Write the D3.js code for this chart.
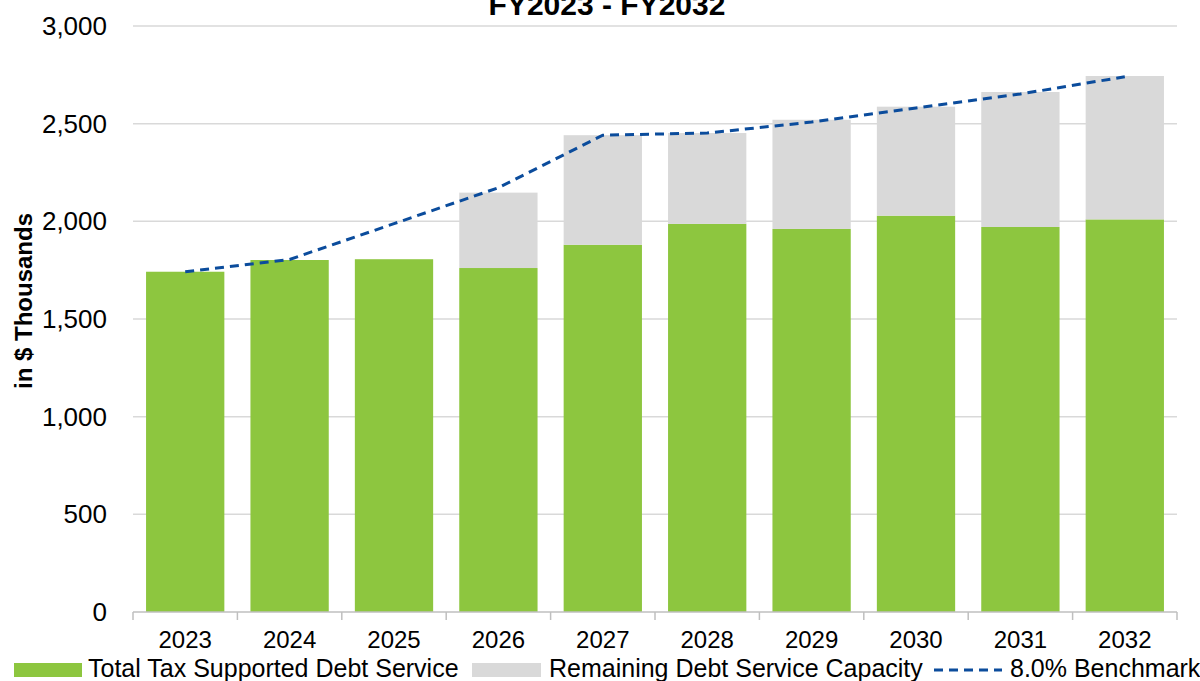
<!DOCTYPE html>
<html>
<head>
<meta charset="utf-8">
<script src="https://cdn.jsdelivr.net/npm/d3@7"></script>
<style>
  body { margin: 0; background: #fff; }
  svg { display: block; font-family: "Liberation Sans", Arial, sans-serif; }
</style>
</head>
<body>
<div id="chart"></div>
<script>
// chart data
const years = ["2023", "2024", "2025", "2026", "2027", "2028", "2029", "2030", "2031", "2032"];
const debtService = [1742, 1802, 1806, 1761, 1880, 1987, 1961, 2029, 1971, 2010];
const remainingCapacity = [0, 0, 0, 386, 561, 465, 559, 558, 691, 734];
const benchmark = [1742, 1805, 1988, 2172, 2441, 2452, 2508, 2580, 2652, 2740];
const yTicks = [0, 500, 1000, 1500, 2000, 2500, 3000];
const legendLabels = ["Total Tax Supported Debt Service", "Remaining Debt Service Capacity", "8.0% Benchmark"];

const width = 1200, height = 681;
const margin = { top: 26, right: 23, bottom: 69, left: 133 };

const svg = d3.select("#chart").append("svg")
  .attr("width", width)
  .attr("height", height);

const x = d3.scaleBand()
  .domain(years)
  .range([margin.left, width - margin.right])
  .paddingInner(0.25)
  .paddingOuter(0.125);

const y = d3.scaleLinear()
  .domain([0, 3000])
  .range([height - margin.bottom, margin.top]);

// gridlines
svg.append("g")
  .selectAll("line")
  .data(yTicks.filter(d => d > 0))
  .enter().append("line")
  .attr("x1", margin.left)
  .attr("x2", width - margin.right)
  .attr("y1", d => y(d))
  .attr("y2", d => y(d))
  .attr("stroke", "#d9d9d9")
  .attr("stroke-width", 1.5);

// y tick labels
svg.append("g")
  .selectAll("text")
  .data(yTicks)
  .enter().append("text")
  .attr("x", 107)
  .attr("y", d => y(d) + 9)
  .attr("text-anchor", "end")
  .style("font-size", "26px")
  .style("fill", "#000")
  .text(d => d3.format(",")(d));

// stacked bars
const stack = years.map((yr, i) => ({ year: yr, debt: debtService[i], rem: remainingCapacity[i] }));

svg.append("g")
  .selectAll("rect")
  .data(stack)
  .enter().append("rect")
  .attr("x", d => x(d.year))
  .attr("width", x.bandwidth())
  .attr("y", d => y(d.debt))
  .attr("height", d => y(0) - y(d.debt))
  .attr("fill", "#8dc63f");

svg.append("g")
  .selectAll("rect")
  .data(stack.filter(d => d.rem > 0))
  .enter().append("rect")
  .attr("x", d => x(d.year))
  .attr("width", x.bandwidth())
  .attr("y", d => y(d.debt + d.rem))
  .attr("height", d => y(d.debt) - y(d.debt + d.rem))
  .attr("fill", "#d9d9d9");

// x axis
const xAxis = svg.append("g")
  .attr("transform", `translate(0, ${y(0)})`);

xAxis.append("line")
  .attr("x1", margin.left)
  .attr("x2", width - margin.right)
  .attr("stroke", "#bfbfbf")
  .attr("stroke-width", 1.5);

const bounds = years.map(d => x(d) - x.step() * 0.125).concat([width - margin.right]);
xAxis.selectAll(".tick")
  .data(bounds)
  .enter().append("line")
  .attr("x1", d => d)
  .attr("x2", d => d)
  .attr("y1", 0)
  .attr("y2", 8)
  .attr("stroke", "#bfbfbf")
  .attr("stroke-width", 1.5);

xAxis.selectAll("text")
  .data(years)
  .enter().append("text")
  .attr("x", d => x(d) + x.bandwidth() / 2)
  .attr("y", 36)
  .attr("text-anchor", "middle")
  .style("font-size", "24px")
  .style("fill", "#000")
  .text(d => d);

// benchmark line
const line = d3.line()
  .x((d, i) => x(years[i]) + x.bandwidth() / 2)
  .y(d => y(d));

svg.append("path")
  .datum(benchmark)
  .attr("fill", "none")
  .attr("stroke", "#0b4c9c")
  .attr("stroke-width", 3)
  .attr("stroke-dasharray", "9,6")
  .attr("d", line);

// title (cut off at the top like the original)
svg.append("text")
  .attr("x", 607)
  .attr("y", 15)
  .attr("text-anchor", "middle")
  .style("font-size", "30px")
  .style("font-weight", "bold")
  .style("fill", "#000")
  .text("FY2023 - FY2032");

// y axis label
svg.append("text")
  .attr("transform", "translate(32, 301) rotate(-90)")
  .attr("text-anchor", "middle")
  .style("font-size", "24px")
  .style("font-weight", "bold")
  .style("fill", "#000")
  .text("in $ Thousands");

// legend
const legend = svg.append("g");
const legendY = 670;

legend.append("rect")
  .attr("x", 14).attr("y", 663).attr("width", 68).attr("height", 14)
  .attr("fill", "#8dc63f");
legend.append("text")
  .attr("x", 88).attr("y", legendY + 7)
  .style("font-size", "25px")
  .text(legendLabels[0]);

legend.append("rect")
  .attr("x", 472).attr("y", 663).attr("width", 69).attr("height", 14)
  .attr("fill", "#d9d9d9");
legend.append("text")
  .attr("x", 549).attr("y", legendY + 7)
  .style("font-size", "25px")
  .text(legendLabels[1]);

legend.append("line")
  .attr("x1", 934).attr("x2", 1002)
  .attr("y1", legendY).attr("y2", legendY)
  .attr("stroke", "#0b4c9c")
  .attr("stroke-width", 3)
  .attr("stroke-dasharray", "9,6");
legend.append("text")
  .attr("x", 1010).attr("y", legendY + 7)
  .style("font-size", "25px")
  .text(legendLabels[2]);
</script>
</body>
</html>
